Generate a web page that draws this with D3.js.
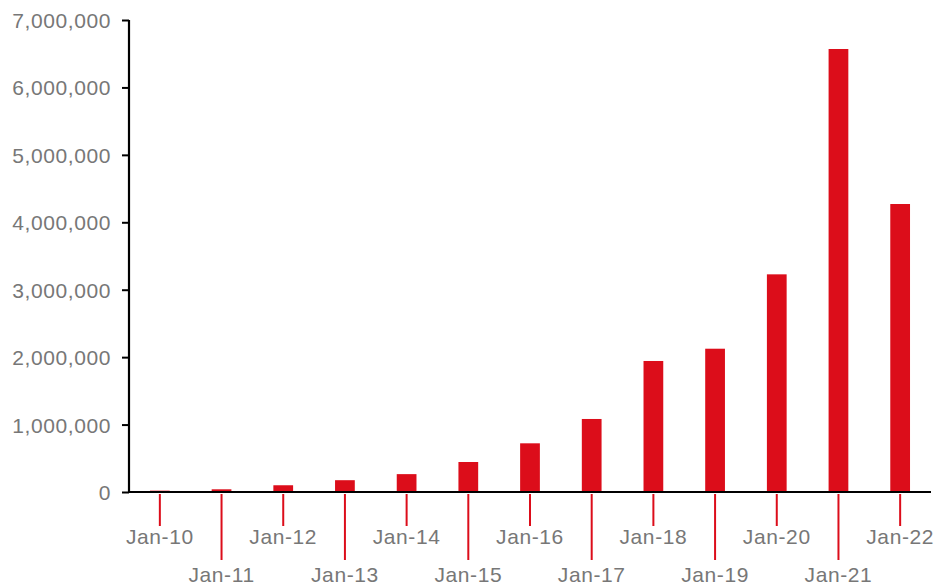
<!DOCTYPE html>
<html>
<head>
<meta charset="utf-8">
<script src="https://cdn.jsdelivr.net/npm/d3@7"></script>
<style>
html,body{margin:0;padding:0;background:#fff;}
svg{display:block;}
text{font-family:"Liberation Sans",Arial,sans-serif;}
</style>
</head>
<body>
<svg id="chart" width="947" height="582"></svg>
<script>
const categories = ["Jan-10","Jan-11","Jan-12","Jan-13","Jan-14","Jan-15","Jan-16","Jan-17","Jan-18","Jan-19","Jan-20","Jan-21","Jan-22"];
const values = [20000, 40000, 100000, 175000, 265000, 445000, 722000, 1083000, 1943000, 2125000, 3228000, 6570000, 4271000];
const yTicks = [0, 1000000, 2000000, 3000000, 4000000, 5000000, 6000000, 7000000];

const svg = d3.select("#chart");
const mLeft = 129, mRight = 931, mTop = 20, mBottom = 492;
const red = "#dc0d1a";
const grey = "#777777";

const x = d3.scaleBand().domain(categories).range([mLeft, mRight]).paddingInner(0.68).paddingOuter(0.34);
const y = d3.scaleLinear().domain([0, 7000000]).range([mBottom, mTop]);

// bars
svg.append("g").selectAll("rect").data(values).join("rect")
  .attr("x", (d, i) => x(categories[i]))
  .attr("width", x.bandwidth())
  .attr("y", d => y(d))
  .attr("height", d => y(0) - y(d))
  .attr("fill", red);

// y axis
const yAxis = svg.append("g").attr("transform", `translate(${mLeft},0)`)
  .call(d3.axisLeft(y).tickValues(yTicks).tickFormat(d3.format(",")).tickSize(7).tickPadding(11));
yAxis.select(".domain").attr("stroke", "#000").attr("stroke-width", 2.2).attr("d", `M0,${mTop}V${mBottom}`);
yAxis.selectAll(".tick line").attr("stroke", "#000").attr("stroke-width", 2);
yAxis.selectAll(".tick text").attr("fill", grey).attr("font-size", 21).attr("letter-spacing", 0.6).attr("dy", "0.36em");

// x axis
const xAxis = svg.append("g").attr("transform", `translate(0,${mBottom})`)
  .call(d3.axisBottom(x).tickSize(0).tickSizeOuter(0));
xAxis.select(".domain").attr("stroke", "#000").attr("stroke-width", 2.2).attr("d", `M${mLeft},0H${mRight}`);
xAxis.selectAll(".tick line")
  .attr("stroke", red).attr("stroke-width", 2)
  .attr("y1", 2)
  .attr("y2", (d, i) => i % 2 === 0 ? 34 : 68);
xAxis.selectAll(".tick text")
  .attr("fill", grey).attr("font-size", 21).attr("letter-spacing", 0.6)
  .attr("dy", 0)
  .attr("y", (d, i) => i % 2 === 0 ? 52 : 90);
</script>
</body>
</html>
